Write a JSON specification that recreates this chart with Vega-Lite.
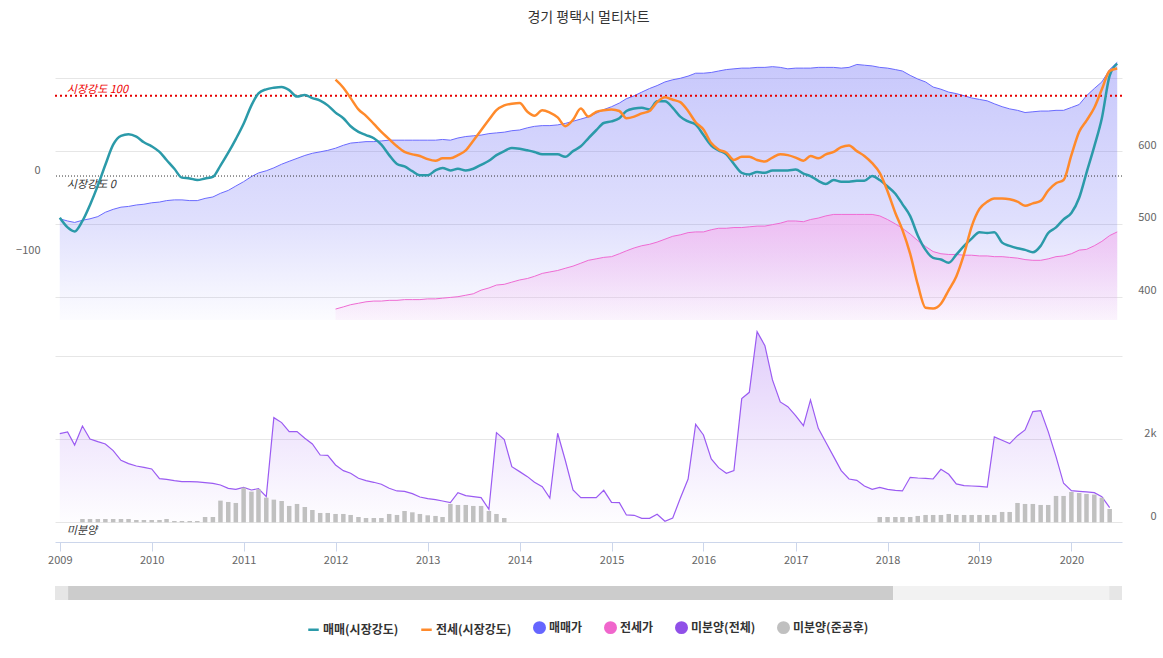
{
  "$schema": "https://vega.github.io/schema/vega-lite/v6.json",
  "autosize": {"type": "none"},
  "padding": {"left": 55, "top": 60, "right": 41, "bottom": 116},
  "width": 1067,
  "height": 482,
  "background": "white",
  "title": {"text": "경기 평택시 멀티차트", "anchor": "middle", "offset": 34, "fontSize": 14, "fontWeight": "normal", "color": "#333333"},
  "datasets": {
    "market": [
      {"date": "2009-01-01", "sale_strength": -52, "sale_price": 507},
      {"date": "2009-02-01", "sale_strength": -64, "sale_price": 504},
      {"date": "2009-03-01", "sale_strength": -69, "sale_price": 502},
      {"date": "2009-04-01", "sale_strength": -56, "sale_price": 505},
      {"date": "2009-05-01", "sale_strength": -36, "sale_price": 507},
      {"date": "2009-06-01", "sale_strength": -12, "sale_price": 510},
      {"date": "2009-07-01", "sale_strength": 14, "sale_price": 516},
      {"date": "2009-08-01", "sale_strength": 39, "sale_price": 520},
      {"date": "2009-09-01", "sale_strength": 50, "sale_price": 523},
      {"date": "2009-10-01", "sale_strength": 52, "sale_price": 524},
      {"date": "2009-11-01", "sale_strength": 49, "sale_price": 526},
      {"date": "2009-12-01", "sale_strength": 42, "sale_price": 527},
      {"date": "2010-01-01", "sale_strength": 37, "sale_price": 529},
      {"date": "2010-02-01", "sale_strength": 30, "sale_price": 530},
      {"date": "2010-03-01", "sale_strength": 20, "sale_price": 532},
      {"date": "2010-04-01", "sale_strength": 9, "sale_price": 533},
      {"date": "2010-05-01", "sale_strength": -2, "sale_price": 533},
      {"date": "2010-06-01", "sale_strength": -3, "sale_price": 532},
      {"date": "2010-07-01", "sale_strength": -5, "sale_price": 532},
      {"date": "2010-08-01", "sale_strength": -3, "sale_price": 535},
      {"date": "2010-09-01", "sale_strength": -1, "sale_price": 537},
      {"date": "2010-10-01", "sale_strength": 13, "sale_price": 542},
      {"date": "2010-11-01", "sale_strength": 29, "sale_price": 546},
      {"date": "2010-12-01", "sale_strength": 46, "sale_price": 552},
      {"date": "2011-01-01", "sale_strength": 65, "sale_price": 558},
      {"date": "2011-02-01", "sale_strength": 88, "sale_price": 565},
      {"date": "2011-03-01", "sale_strength": 103, "sale_price": 570},
      {"date": "2011-04-01", "sale_strength": 108, "sale_price": 573},
      {"date": "2011-05-01", "sale_strength": 110, "sale_price": 577},
      {"date": "2011-06-01", "sale_strength": 111, "sale_price": 582},
      {"date": "2011-07-01", "sale_strength": 107, "sale_price": 586},
      {"date": "2011-08-01", "sale_strength": 99, "sale_price": 590},
      {"date": "2011-09-01", "sale_strength": 101, "sale_price": 594},
      {"date": "2011-10-01", "sale_strength": 97, "sale_price": 597},
      {"date": "2011-11-01", "sale_strength": 94, "sale_price": 599},
      {"date": "2011-12-01", "sale_strength": 88, "sale_price": 601},
      {"date": "2012-01-01", "sale_strength": 79, "jeonse_strength": 120, "sale_price": 604, "jeonse_price": 383},
      {"date": "2012-02-01", "sale_strength": 72, "jeonse_strength": 110, "sale_price": 608, "jeonse_price": 386},
      {"date": "2012-03-01", "sale_strength": 62, "jeonse_strength": 97, "sale_price": 611, "jeonse_price": 389},
      {"date": "2012-04-01", "sale_strength": 55, "jeonse_strength": 83, "sale_price": 612, "jeonse_price": 391},
      {"date": "2012-05-01", "sale_strength": 51, "jeonse_strength": 75, "sale_price": 613, "jeonse_price": 393},
      {"date": "2012-06-01", "sale_strength": 47, "jeonse_strength": 65, "sale_price": 613, "jeonse_price": 394},
      {"date": "2012-07-01", "sale_strength": 39, "jeonse_strength": 55, "sale_price": 614, "jeonse_price": 394},
      {"date": "2012-08-01", "sale_strength": 26, "jeonse_strength": 46, "sale_price": 615, "jeonse_price": 395},
      {"date": "2012-09-01", "sale_strength": 15, "jeonse_strength": 37, "sale_price": 615, "jeonse_price": 395},
      {"date": "2012-10-01", "sale_strength": 12, "jeonse_strength": 30, "sale_price": 615, "jeonse_price": 396},
      {"date": "2012-11-01", "sale_strength": 6, "jeonse_strength": 27, "sale_price": 615, "jeonse_price": 396},
      {"date": "2012-12-01", "sale_strength": 1, "jeonse_strength": 25, "sale_price": 615, "jeonse_price": 396},
      {"date": "2013-01-01", "sale_strength": 1, "jeonse_strength": 21, "sale_price": 615, "jeonse_price": 397},
      {"date": "2013-02-01", "sale_strength": 7, "jeonse_strength": 19, "sale_price": 615, "jeonse_price": 397},
      {"date": "2013-03-01", "sale_strength": 10, "jeonse_strength": 22, "sale_price": 616, "jeonse_price": 398},
      {"date": "2013-04-01", "sale_strength": 7, "jeonse_strength": 22, "sale_price": 615, "jeonse_price": 399},
      {"date": "2013-05-01", "sale_strength": 9, "jeonse_strength": 26, "sale_price": 618, "jeonse_price": 400},
      {"date": "2013-06-01", "sale_strength": 7, "jeonse_strength": 32, "sale_price": 620, "jeonse_price": 402},
      {"date": "2013-07-01", "sale_strength": 9, "jeonse_strength": 44, "sale_price": 621, "jeonse_price": 404},
      {"date": "2013-08-01", "sale_strength": 14, "jeonse_strength": 57, "sale_price": 622, "jeonse_price": 409},
      {"date": "2013-09-01", "sale_strength": 19, "jeonse_strength": 70, "sale_price": 624, "jeonse_price": 412},
      {"date": "2013-10-01", "sale_strength": 26, "jeonse_strength": 82, "sale_price": 625, "jeonse_price": 416},
      {"date": "2013-11-01", "sale_strength": 31, "jeonse_strength": 88, "sale_price": 626, "jeonse_price": 417},
      {"date": "2013-12-01", "sale_strength": 35, "jeonse_strength": 90, "sale_price": 628, "jeonse_price": 420},
      {"date": "2014-01-01", "sale_strength": 34, "jeonse_strength": 91, "sale_price": 629, "jeonse_price": 423},
      {"date": "2014-02-01", "sale_strength": 32, "jeonse_strength": 80, "sale_price": 632, "jeonse_price": 425},
      {"date": "2014-03-01", "sale_strength": 30, "jeonse_strength": 75, "sale_price": 634, "jeonse_price": 428},
      {"date": "2014-04-01", "sale_strength": 27, "jeonse_strength": 82, "sale_price": 635, "jeonse_price": 432},
      {"date": "2014-05-01", "sale_strength": 27, "jeonse_strength": 79, "sale_price": 635, "jeonse_price": 434},
      {"date": "2014-06-01", "sale_strength": 27, "jeonse_strength": 73, "sale_price": 636, "jeonse_price": 436},
      {"date": "2014-07-01", "sale_strength": 24, "jeonse_strength": 62, "sale_price": 638, "jeonse_price": 439},
      {"date": "2014-08-01", "sale_strength": 31, "jeonse_strength": 70, "sale_price": 641, "jeonse_price": 442},
      {"date": "2014-09-01", "sale_strength": 37, "jeonse_strength": 84, "sale_price": 644, "jeonse_price": 446},
      {"date": "2014-10-01", "sale_strength": 47, "jeonse_strength": 74, "sale_price": 647, "jeonse_price": 450},
      {"date": "2014-11-01", "sale_strength": 57, "jeonse_strength": 80, "sale_price": 652, "jeonse_price": 452},
      {"date": "2014-12-01", "sale_strength": 66, "jeonse_strength": 82, "sale_price": 657, "jeonse_price": 454},
      {"date": "2015-01-01", "sale_strength": 68, "jeonse_strength": 83, "sale_price": 661, "jeonse_price": 455},
      {"date": "2015-02-01", "sale_strength": 72, "jeonse_strength": 81, "sale_price": 666, "jeonse_price": 459},
      {"date": "2015-03-01", "sale_strength": 81, "jeonse_strength": 72, "sale_price": 672, "jeonse_price": 463},
      {"date": "2015-04-01", "sale_strength": 84, "jeonse_strength": 74, "sale_price": 676, "jeonse_price": 467},
      {"date": "2015-05-01", "sale_strength": 85, "jeonse_strength": 78, "sale_price": 681, "jeonse_price": 470},
      {"date": "2015-06-01", "sale_strength": 83, "jeonse_strength": 81, "sale_price": 686, "jeonse_price": 472},
      {"date": "2015-07-01", "sale_strength": 93, "jeonse_strength": 92, "sale_price": 690, "jeonse_price": 475},
      {"date": "2015-08-01", "sale_strength": 93, "jeonse_strength": 98, "sale_price": 695, "jeonse_price": 479},
      {"date": "2015-09-01", "sale_strength": 85, "jeonse_strength": 95, "sale_price": 698, "jeonse_price": 483},
      {"date": "2015-10-01", "sale_strength": 74, "jeonse_strength": 92, "sale_price": 700, "jeonse_price": 485},
      {"date": "2015-11-01", "sale_strength": 68, "jeonse_strength": 81, "sale_price": 703, "jeonse_price": 488},
      {"date": "2015-12-01", "sale_strength": 64, "jeonse_strength": 67, "sale_price": 707, "jeonse_price": 489},
      {"date": "2016-01-01", "sale_strength": 51, "jeonse_strength": 58, "sale_price": 707, "jeonse_price": 489},
      {"date": "2016-02-01", "sale_strength": 38, "jeonse_strength": 41, "sale_price": 708, "jeonse_price": 492},
      {"date": "2016-03-01", "sale_strength": 32, "jeonse_strength": 33, "sale_price": 710, "jeonse_price": 494},
      {"date": "2016-04-01", "sale_strength": 27, "jeonse_strength": 29, "sale_price": 712, "jeonse_price": 494},
      {"date": "2016-05-01", "sale_strength": 15, "jeonse_strength": 20, "sale_price": 713, "jeonse_price": 495},
      {"date": "2016-06-01", "sale_strength": 4, "jeonse_strength": 24, "sale_price": 714, "jeonse_price": 495},
      {"date": "2016-07-01", "sale_strength": 2, "jeonse_strength": 24, "sale_price": 714, "jeonse_price": 496},
      {"date": "2016-08-01", "sale_strength": 5, "jeonse_strength": 20, "sale_price": 715, "jeonse_price": 497},
      {"date": "2016-09-01", "sale_strength": 4, "jeonse_strength": 18, "sale_price": 715, "jeonse_price": 497},
      {"date": "2016-10-01", "sale_strength": 7, "jeonse_strength": 23, "sale_price": 716, "jeonse_price": 499},
      {"date": "2016-11-01", "sale_strength": 7, "jeonse_strength": 27, "sale_price": 715, "jeonse_price": 501},
      {"date": "2016-12-01", "sale_strength": 7, "jeonse_strength": 26, "sale_price": 713, "jeonse_price": 504},
      {"date": "2017-01-01", "sale_strength": 8, "jeonse_strength": 23, "sale_price": 714, "jeonse_price": 504},
      {"date": "2017-02-01", "sale_strength": 3, "jeonse_strength": 19, "sale_price": 714, "jeonse_price": 503},
      {"date": "2017-03-01", "sale_strength": 0, "jeonse_strength": 25, "sale_price": 714, "jeonse_price": 506},
      {"date": "2017-04-01", "sale_strength": -6, "jeonse_strength": 22, "sale_price": 715, "jeonse_price": 508},
      {"date": "2017-05-01", "sale_strength": -10, "jeonse_strength": 27, "sale_price": 715, "jeonse_price": 511},
      {"date": "2017-06-01", "sale_strength": -5, "jeonse_strength": 30, "sale_price": 715, "jeonse_price": 513},
      {"date": "2017-07-01", "sale_strength": -7, "jeonse_strength": 36, "sale_price": 714, "jeonse_price": 513},
      {"date": "2017-08-01", "sale_strength": -7, "jeonse_strength": 38, "sale_price": 715, "jeonse_price": 513},
      {"date": "2017-09-01", "sale_strength": -6, "jeonse_strength": 31, "sale_price": 719, "jeonse_price": 513},
      {"date": "2017-10-01", "sale_strength": -6, "jeonse_strength": 25, "sale_price": 718, "jeonse_price": 513},
      {"date": "2017-11-01", "sale_strength": 0, "jeonse_strength": 16, "sale_price": 717, "jeonse_price": 513},
      {"date": "2017-12-01", "sale_strength": -5, "jeonse_strength": 4, "sale_price": 715, "jeonse_price": 511},
      {"date": "2018-01-01", "sale_strength": -13, "jeonse_strength": -19, "sale_price": 714, "jeonse_price": 506},
      {"date": "2018-02-01", "sale_strength": -22, "jeonse_strength": -46, "sale_price": 712, "jeonse_price": 500},
      {"date": "2018-03-01", "sale_strength": -35, "jeonse_strength": -67, "sale_price": 710, "jeonse_price": 494},
      {"date": "2018-04-01", "sale_strength": -50, "jeonse_strength": -97, "sale_price": 704, "jeonse_price": 486},
      {"date": "2018-05-01", "sale_strength": -74, "jeonse_strength": -135, "sale_price": 699, "jeonse_price": 477},
      {"date": "2018-06-01", "sale_strength": -92, "jeonse_strength": -164, "sale_price": 695, "jeonse_price": 469},
      {"date": "2018-07-01", "sale_strength": -102, "jeonse_strength": -165, "sale_price": 688, "jeonse_price": 462},
      {"date": "2018-08-01", "sale_strength": -104, "jeonse_strength": -159, "sale_price": 685, "jeonse_price": 459},
      {"date": "2018-09-01", "sale_strength": -108, "jeonse_strength": -142, "sale_price": 681, "jeonse_price": 458},
      {"date": "2018-10-01", "sale_strength": -98, "jeonse_strength": -125, "sale_price": 679, "jeonse_price": 458},
      {"date": "2018-11-01", "sale_strength": -87, "jeonse_strength": -97, "sale_price": 676, "jeonse_price": 457},
      {"date": "2018-12-01", "sale_strength": -78, "jeonse_strength": -63, "sale_price": 673, "jeonse_price": 457},
      {"date": "2019-01-01", "sale_strength": -70, "jeonse_strength": -41, "sale_price": 671, "jeonse_price": 456},
      {"date": "2019-02-01", "sale_strength": -71, "jeonse_strength": -32, "sale_price": 669, "jeonse_price": 456},
      {"date": "2019-03-01", "sale_strength": -70, "jeonse_strength": -28, "sale_price": 665, "jeonse_price": 455},
      {"date": "2019-04-01", "sale_strength": -83, "jeonse_strength": -28, "sale_price": 661, "jeonse_price": 455},
      {"date": "2019-05-01", "sale_strength": -87, "jeonse_strength": -29, "sale_price": 658, "jeonse_price": 454},
      {"date": "2019-06-01", "sale_strength": -90, "jeonse_strength": -32, "sale_price": 656, "jeonse_price": 453},
      {"date": "2019-07-01", "sale_strength": -92, "jeonse_strength": -37, "sale_price": 653, "jeonse_price": 451},
      {"date": "2019-08-01", "sale_strength": -95, "jeonse_strength": -34, "sale_price": 654, "jeonse_price": 450},
      {"date": "2019-09-01", "sale_strength": -87, "jeonse_strength": -31, "sale_price": 655, "jeonse_price": 450},
      {"date": "2019-10-01", "sale_strength": -71, "jeonse_strength": -18, "sale_price": 655, "jeonse_price": 452},
      {"date": "2019-11-01", "sale_strength": -64, "jeonse_strength": -9, "sale_price": 656, "jeonse_price": 455},
      {"date": "2019-12-01", "sale_strength": -54, "jeonse_strength": -5, "sale_price": 656, "jeonse_price": 456},
      {"date": "2020-01-01", "sale_strength": -46, "jeonse_strength": 26, "sale_price": 660, "jeonse_price": 459},
      {"date": "2020-02-01", "sale_strength": -27, "jeonse_strength": 55, "sale_price": 664, "jeonse_price": 464},
      {"date": "2020-03-01", "sale_strength": 4, "jeonse_strength": 69, "sale_price": 676, "jeonse_price": 465},
      {"date": "2020-04-01", "sale_strength": 37, "jeonse_strength": 85, "sale_price": 686, "jeonse_price": 470},
      {"date": "2020-05-01", "sale_strength": 72, "jeonse_strength": 108, "sale_price": 695, "jeonse_price": 476},
      {"date": "2020-06-01", "sale_strength": 125, "jeonse_strength": 131, "sale_price": 712, "jeonse_price": 484},
      {"date": "2020-07-01", "sale_strength": 140, "jeonse_strength": 134, "sale_price": 722, "jeonse_price": 489}
    ],
    "stock": [
      {"date": "2009-01-01", "unsold": 2137},
      {"date": "2009-02-01", "unsold": 2177},
      {"date": "2009-03-01", "unsold": 1863},
      {"date": "2009-04-01", "unsold": 2321, "unsold_done": 80},
      {"date": "2009-05-01", "unsold": 2008, "unsold_done": 80},
      {"date": "2009-06-01", "unsold": 1944, "unsold_done": 80},
      {"date": "2009-07-01", "unsold": 1888, "unsold_done": 80},
      {"date": "2009-08-01", "unsold": 1727, "unsold_done": 80},
      {"date": "2009-09-01", "unsold": 1494, "unsold_done": 80},
      {"date": "2009-10-01", "unsold": 1414, "unsold_done": 80},
      {"date": "2009-11-01", "unsold": 1357, "unsold_done": 56},
      {"date": "2009-12-01", "unsold": 1325, "unsold_done": 56},
      {"date": "2010-01-01", "unsold": 1285, "unsold_done": 56},
      {"date": "2010-02-01", "unsold": 1052, "unsold_done": 56},
      {"date": "2010-03-01", "unsold": 1036, "unsold_done": 80},
      {"date": "2010-04-01", "unsold": 1004, "unsold_done": 32},
      {"date": "2010-05-01", "unsold": 980, "unsold_done": 32},
      {"date": "2010-06-01", "unsold": 980, "unsold_done": 32},
      {"date": "2010-07-01", "unsold": 972, "unsold_done": 32},
      {"date": "2010-08-01", "unsold": 956, "unsold_done": 128},
      {"date": "2010-09-01", "unsold": 940, "unsold_done": 128},
      {"date": "2010-10-01", "unsold": 900, "unsold_done": 522},
      {"date": "2010-11-01", "unsold": 819, "unsold_done": 490},
      {"date": "2010-12-01", "unsold": 795, "unsold_done": 466},
      {"date": "2011-01-01", "unsold": 843, "unsold_done": 835},
      {"date": "2011-02-01", "unsold": 779, "unsold_done": 739},
      {"date": "2011-03-01", "unsold": 811, "unsold_done": 795},
      {"date": "2011-04-01", "unsold": 618, "unsold_done": 594},
      {"date": "2011-05-01", "unsold": 2522, "unsold_done": 546},
      {"date": "2011-06-01", "unsold": 2402, "unsold_done": 514},
      {"date": "2011-07-01", "unsold": 2185, "unsold_done": 394},
      {"date": "2011-08-01", "unsold": 2185, "unsold_done": 442},
      {"date": "2011-09-01", "unsold": 2024, "unsold_done": 369},
      {"date": "2011-10-01", "unsold": 1888, "unsold_done": 297},
      {"date": "2011-11-01", "unsold": 1622, "unsold_done": 225},
      {"date": "2011-12-01", "unsold": 1614, "unsold_done": 225},
      {"date": "2012-01-01", "unsold": 1381, "unsold_done": 201},
      {"date": "2012-02-01", "unsold": 1245, "unsold_done": 201},
      {"date": "2012-03-01", "unsold": 1181, "unsold_done": 177},
      {"date": "2012-04-01", "unsold": 1060, "unsold_done": 128},
      {"date": "2012-05-01", "unsold": 1004, "unsold_done": 104},
      {"date": "2012-06-01", "unsold": 964, "unsold_done": 104},
      {"date": "2012-07-01", "unsold": 916, "unsold_done": 104},
      {"date": "2012-08-01", "unsold": 819, "unsold_done": 201},
      {"date": "2012-09-01", "unsold": 755, "unsold_done": 177},
      {"date": "2012-10-01", "unsold": 747, "unsold_done": 273},
      {"date": "2012-11-01", "unsold": 691, "unsold_done": 241},
      {"date": "2012-12-01", "unsold": 610, "unsold_done": 201},
      {"date": "2013-01-01", "unsold": 570, "unsold_done": 169},
      {"date": "2013-02-01", "unsold": 546, "unsold_done": 153},
      {"date": "2013-03-01", "unsold": 514, "unsold_done": 128},
      {"date": "2013-04-01", "unsold": 474, "unsold_done": 442},
      {"date": "2013-05-01", "unsold": 715, "unsold_done": 418},
      {"date": "2013-06-01", "unsold": 643, "unsold_done": 418},
      {"date": "2013-07-01", "unsold": 618, "unsold_done": 394},
      {"date": "2013-08-01", "unsold": 594, "unsold_done": 394},
      {"date": "2013-09-01", "unsold": 313, "unsold_done": 273},
      {"date": "2013-10-01", "unsold": 2161, "unsold_done": 201},
      {"date": "2013-11-01", "unsold": 1992, "unsold_done": 104},
      {"date": "2013-12-01", "unsold": 1341},
      {"date": "2014-01-01", "unsold": 1221},
      {"date": "2014-02-01", "unsold": 1100},
      {"date": "2014-03-01", "unsold": 964},
      {"date": "2014-04-01", "unsold": 859},
      {"date": "2014-05-01", "unsold": 586},
      {"date": "2014-06-01", "unsold": 2145},
      {"date": "2014-07-01", "unsold": 1502},
      {"date": "2014-08-01", "unsold": 779},
      {"date": "2014-09-01", "unsold": 594},
      {"date": "2014-10-01", "unsold": 594},
      {"date": "2014-11-01", "unsold": 594},
      {"date": "2014-12-01", "unsold": 771},
      {"date": "2015-01-01", "unsold": 482},
      {"date": "2015-02-01", "unsold": 474},
      {"date": "2015-03-01", "unsold": 177},
      {"date": "2015-04-01", "unsold": 169},
      {"date": "2015-05-01", "unsold": 96},
      {"date": "2015-06-01", "unsold": 96},
      {"date": "2015-07-01", "unsold": 193},
      {"date": "2015-08-01", "unsold": 24},
      {"date": "2015-09-01", "unsold": 104},
      {"date": "2015-10-01", "unsold": 578},
      {"date": "2015-11-01", "unsold": 1044},
      {"date": "2015-12-01", "unsold": 2361},
      {"date": "2016-01-01", "unsold": 2104},
      {"date": "2016-02-01", "unsold": 1526},
      {"date": "2016-03-01", "unsold": 1317},
      {"date": "2016-04-01", "unsold": 1181},
      {"date": "2016-05-01", "unsold": 1245},
      {"date": "2016-06-01", "unsold": 2980},
      {"date": "2016-07-01", "unsold": 3132},
      {"date": "2016-08-01", "unsold": 4594},
      {"date": "2016-09-01", "unsold": 4257},
      {"date": "2016-10-01", "unsold": 3430},
      {"date": "2016-11-01", "unsold": 2900},
      {"date": "2016-12-01", "unsold": 2787},
      {"date": "2017-01-01", "unsold": 2570},
      {"date": "2017-02-01", "unsold": 2329},
      {"date": "2017-03-01", "unsold": 2948},
      {"date": "2017-04-01", "unsold": 2265},
      {"date": "2017-05-01", "unsold": 1928},
      {"date": "2017-06-01", "unsold": 1582},
      {"date": "2017-07-01", "unsold": 1245},
      {"date": "2017-08-01", "unsold": 1044},
      {"date": "2017-09-01", "unsold": 1012},
      {"date": "2017-10-01", "unsold": 875},
      {"date": "2017-11-01", "unsold": 795},
      {"date": "2017-12-01", "unsold": 843, "unsold_done": 128},
      {"date": "2018-01-01", "unsold": 795, "unsold_done": 128},
      {"date": "2018-02-01", "unsold": 771, "unsold_done": 128},
      {"date": "2018-03-01", "unsold": 755, "unsold_done": 128},
      {"date": "2018-04-01", "unsold": 1084, "unsold_done": 128},
      {"date": "2018-05-01", "unsold": 1068, "unsold_done": 153},
      {"date": "2018-06-01", "unsold": 1060, "unsold_done": 177},
      {"date": "2018-07-01", "unsold": 1044, "unsold_done": 177},
      {"date": "2018-08-01", "unsold": 1277, "unsold_done": 177},
      {"date": "2018-09-01", "unsold": 1157, "unsold_done": 201},
      {"date": "2018-10-01", "unsold": 924, "unsold_done": 177},
      {"date": "2018-11-01", "unsold": 884, "unsold_done": 177},
      {"date": "2018-12-01", "unsold": 875, "unsold_done": 177},
      {"date": "2019-01-01", "unsold": 867, "unsold_done": 177},
      {"date": "2019-02-01", "unsold": 851, "unsold_done": 177},
      {"date": "2019-03-01", "unsold": 2056, "unsold_done": 177},
      {"date": "2019-04-01", "unsold": 1976, "unsold_done": 249},
      {"date": "2019-05-01", "unsold": 1896, "unsold_done": 249},
      {"date": "2019-06-01", "unsold": 2088, "unsold_done": 466},
      {"date": "2019-07-01", "unsold": 2225, "unsold_done": 442},
      {"date": "2019-08-01", "unsold": 2667, "unsold_done": 442},
      {"date": "2019-09-01", "unsold": 2691, "unsold_done": 418},
      {"date": "2019-10-01", "unsold": 2185, "unsold_done": 418},
      {"date": "2019-11-01", "unsold": 1582, "unsold_done": 635},
      {"date": "2019-12-01", "unsold": 940, "unsold_done": 635},
      {"date": "2020-01-01", "unsold": 763, "unsold_done": 731},
      {"date": "2020-02-01", "unsold": 747, "unsold_done": 707},
      {"date": "2020-03-01", "unsold": 731, "unsold_done": 683},
      {"date": "2020-04-01", "unsold": 715, "unsold_done": 667},
      {"date": "2020-05-01", "unsold": 618, "unsold_done": 594},
      {"date": "2020-06-01", "unsold": 353, "unsold_done": 321}
    ],
    "navigator": [
      {"part": "button", "start": "2008-12-13", "end": "2009-02-03"},
      {"part": "thumb", "start": "2009-02-03", "end": "2018-01-23"},
      {"part": "track", "start": "2018-01-23", "end": "2020-05-30"},
      {"part": "button", "start": "2020-05-30", "end": "2020-07-20"}
    ],
    "legend": [
      {"series": "매매(시장강도)"}
    ]
  },
  "layer": [
    {
      "data": {"name": "market"},
      "mark": {"type": "area", "fill": {"gradient": "linear", "x1": 0, "y1": 0, "x2": 0, "y2": 1, "stops": [{"offset": 0, "color": "rgba(102,102,245,0.36)"}, {"offset": 0.6, "color": "rgba(102,102,245,0.21)"}, {"offset": 1, "color": "rgba(102,102,245,0.02)"}]}},
      "encoding": {
        "x": {
          "field": "date", "type": "temporal", "title": null,
          "scale": {"domain": [1229126400000, 1595203200000], "padding": 0},
          "axis": {"orient": "bottom", "format": "%Y", "tickCount": 12, "grid": false, "domain": true, "domainColor": "#ccd6eb", "ticks": true, "tickColor": "#ccd6eb", "tickSize": 9, "labels": true, "labelColor": "#666666", "labelFontSize": 11, "labelPadding": 3}
        },
        "y": {
          "field": "sale_price", "type": "quantitative", "title": null,
          "scale": {"domain": [63.05, 725.14], "zero": false, "nice": false, "padding": 0},
          "axis": {"orient": "right", "values": [400, 500, 600, 700], "labelExpr": "datum.value >= 700 ? '' : datum.label", "grid": true, "gridColor": "#e6e6e6", "domain": false, "ticks": false, "labelAlign": "right", "labelPadding": 34, "labelOffset": -6, "labelColor": "#666666", "labelFontSize": 11}
        },
        "y2": {"datum": 368}
      }
    },
    {
      "data": {"name": "market"},
      "mark": {"type": "area", "fill": {"gradient": "linear", "x1": 0, "y1": 0, "x2": 0, "y2": 1, "stops": [{"offset": 0, "color": "rgba(245,175,238,0.7)"}, {"offset": 1, "color": "rgba(245,185,240,0.12)"}]}},
      "encoding": {
        "x": {"field": "date", "type": "temporal", "scale": {"domain": [1229126400000, 1595203200000], "padding": 0}, "axis": null},
        "y": {"field": "jeonse_price", "type": "quantitative", "scale": {"domain": [63.05, 725.14], "zero": false, "nice": false, "padding": 0}, "axis": null},
        "y2": {"datum": 368}
      }
    },
    {
      "data": {"name": "market"},
      "mark": {"type": "line", "color": "#6a6aff", "strokeWidth": 1},
      "encoding": {
        "x": {"field": "date", "type": "temporal", "scale": {"domain": [1229126400000, 1595203200000], "padding": 0}, "axis": null},
        "y": {"field": "sale_price", "type": "quantitative", "scale": {"domain": [63.05, 725.14], "zero": false, "nice": false, "padding": 0}, "axis": null}
      }
    },
    {
      "data": {"name": "market"},
      "mark": {"type": "line", "color": "#ef6bd3", "strokeWidth": 1},
      "encoding": {
        "x": {"field": "date", "type": "temporal", "scale": {"domain": [1229126400000, 1595203200000], "padding": 0}, "axis": null},
        "y": {"field": "jeonse_price", "type": "quantitative", "scale": {"domain": [63.05, 725.14], "zero": false, "nice": false, "padding": 0}, "axis": null}
      }
    },
    {
      "data": {"name": "stock"},
      "mark": {"type": "area", "fill": {"gradient": "linear", "x1": 0, "y1": 0, "x2": 0, "y2": 1, "stops": [{"offset": 0, "color": "rgba(155,90,240,0.30)"}, {"offset": 1, "color": "rgba(155,90,240,0.01)"}]}},
      "encoding": {
        "x": {"field": "date", "type": "temporal", "scale": {"domain": [1229126400000, 1595203200000], "padding": 0}, "axis": null},
        "y": {
          "field": "unsold", "type": "quantitative", "title": null,
          "scale": {"domain": [-474.7, 11139.8], "zero": false, "nice": false, "padding": 0},
          "axis": {"orient": "right", "values": [0, 2000, 4000], "format": "~s", "labelExpr": "datum.value >= 4000 ? '' : (datum.value == 0 ? '0' : datum.label)", "grid": true, "gridColor": "#e6e6e6", "domain": false, "ticks": false, "labelAlign": "right", "labelPadding": 34, "labelOffset": -6, "labelColor": "#666666", "labelFontSize": 11}
        },
        "y2": {"datum": 0}
      }
    },
    {
      "data": {"name": "stock"},
      "mark": {"type": "line", "color": "#9b5bf2", "strokeWidth": 1.2},
      "encoding": {
        "x": {"field": "date", "type": "temporal", "scale": {"domain": [1229126400000, 1595203200000], "padding": 0}, "axis": null},
        "y": {"field": "unsold", "type": "quantitative", "scale": {"domain": [-474.7, 11139.8], "zero": false, "nice": false, "padding": 0}, "axis": null}
      }
    },
    {
      "data": {"name": "stock"},
      "mark": {"type": "bar", "color": "#c0c0c0", "width": 4.5},
      "encoding": {
        "x": {"field": "date", "type": "temporal", "scale": {"domain": [1229126400000, 1595203200000], "padding": 0}, "axis": null},
        "y": {"field": "unsold_done", "type": "quantitative", "scale": {"domain": [-474.7, 11139.8], "zero": false, "nice": false, "padding": 0}, "axis": null},
        "y2": {"datum": 0}
      }
    },
    {
      "data": {"name": "legend"},
      "mark": {"type": "text", "text": "미분양", "align": "left", "baseline": "top", "dx": 7, "dy": 3, "fontSize": 11, "fontStyle": "italic", "color": "#333333"},
      "encoding": {
        "x": {"datum": 1230768000000, "type": "temporal", "scale": {"domain": [1229126400000, 1595203200000], "padding": 0}, "axis": null},
        "y": {"datum": 0, "type": "quantitative", "scale": {"domain": [-474.7, 11139.8], "zero": false, "nice": false, "padding": 0}, "axis": null}
      }
    },
    {
      "data": {"name": "legend"},
      "mark": {"type": "rule", "color": "#e60000", "strokeWidth": 2, "strokeDash": [2, 3]},
      "encoding": {
        "y": {"datum": 100, "type": "quantitative", "scale": {"domain": [-455.8, 144.5], "zero": false, "nice": false, "padding": 0}, "axis": null}
      }
    },
    {
      "data": {"name": "legend"},
      "mark": {"type": "rule", "color": "#333333", "strokeWidth": 1, "strokeDash": [1, 2]},
      "encoding": {
        "y": {"datum": 0, "type": "quantitative", "scale": {"domain": [-455.8, 144.5], "zero": false, "nice": false, "padding": 0}, "axis": null}
      }
    },
    {
      "data": {"name": "market"},
      "mark": {"type": "line", "color": "#2b9aa9", "strokeWidth": 2.5, "interpolate": "monotone"},
      "encoding": {
        "x": {"field": "date", "type": "temporal", "scale": {"domain": [1229126400000, 1595203200000], "padding": 0}, "axis": null},
        "y": {
          "field": "sale_strength", "type": "quantitative", "title": null,
          "scale": {"domain": [-455.8, 144.5], "zero": false, "nice": false, "padding": 0},
          "axis": {"orient": "left", "values": [-100, 0], "grid": false, "domain": false, "ticks": false, "labelPadding": 15, "labelOffset": -6, "labelColor": "#666666", "labelFontSize": 11}
        }
      }
    },
    {
      "data": {"name": "market"},
      "mark": {"type": "line", "color": "#ff8a2b", "strokeWidth": 2.5, "interpolate": "monotone"},
      "encoding": {
        "x": {"field": "date", "type": "temporal", "scale": {"domain": [1229126400000, 1595203200000], "padding": 0}, "axis": null},
        "y": {"field": "jeonse_strength", "type": "quantitative", "scale": {"domain": [-455.8, 144.5], "zero": false, "nice": false, "padding": 0}, "axis": null}
      }
    },
    {
      "data": {"name": "legend"},
      "mark": {"type": "text", "text": "시장강도 100", "align": "left", "baseline": "bottom", "dx": 7, "dy": -1, "fontSize": 11, "fontStyle": "italic", "color": "#ee0000"},
      "encoding": {
        "x": {"datum": 1230768000000, "type": "temporal", "scale": {"domain": [1229126400000, 1595203200000], "padding": 0}, "axis": null},
        "y": {"datum": 100, "type": "quantitative", "scale": {"domain": [-455.8, 144.5], "zero": false, "nice": false, "padding": 0}, "axis": null}
      }
    },
    {
      "data": {"name": "legend"},
      "mark": {"type": "text", "text": "시장강도 0", "align": "left", "baseline": "top", "dx": 7, "dy": 3, "fontSize": 11, "fontStyle": "italic", "color": "#333333"},
      "encoding": {
        "x": {"datum": 1230768000000, "type": "temporal", "scale": {"domain": [1229126400000, 1595203200000], "padding": 0}, "axis": null},
        "y": {"datum": 0, "type": "quantitative", "scale": {"domain": [-455.8, 144.5], "zero": false, "nice": false, "padding": 0}, "axis": null}
      }
    },
    {
      "data": {"name": "navigator"},
      "mark": {"type": "rect"},
      "encoding": {
        "x": {"field": "start", "type": "temporal", "scale": {"domain": [1229126400000, 1595203200000], "padding": 0}, "axis": null},
        "x2": {"field": "end"},
        "y": {"datum": 0, "type": "quantitative", "scale": {"domain": [4.1429, 38.5714], "zero": false, "nice": false, "padding": 0}, "axis": null},
        "y2": {"datum": 1},
        "fill": {"field": "part", "type": "nominal", "scale": {"domain": ["button", "thumb", "track"], "range": ["#e6e6e6", "#cccccc", "#f2f2f2"]}, "legend": null}
      }
    },
    {
      "data": {"name": "legend"},
      "transform": [{"filter": "datum.series == 'none'"}],
      "mark": {"type": "point", "filled": true, "opacity": 1, "strokeWidth": 2.5},
      "encoding": {
        "color": {
          "field": "series", "type": "nominal", "title": null,
          "scale": {"domain": ["매매(시장강도)", "전세(시장강도)", "매매가", "전세가", "미분양(전체)", "미분양(준공후)"], "range": ["#2b9aa9", "#ff8a2b", "#6666ff", "#f066cc", "#9050e8", "#c0c0c0"]},
          "legend": {"orient": "none", "legendX": 252, "legendY": 561, "direction": "horizontal", "labelFontSize": 12, "labelFontWeight": "bold", "labelColor": "#333333", "symbolSize": 110, "symbolStrokeWidth": 2.5, "columnPadding": 17, "labelOffset": 3, "labelLimit": 200}
        },
        "stroke": {
          "field": "series", "type": "nominal", "title": null,
          "scale": {"domain": ["매매(시장강도)", "전세(시장강도)", "매매가", "전세가", "미분양(전체)", "미분양(준공후)"], "range": ["#2b9aa9", "#ff8a2b", "#6666ff", "#f066cc", "#9050e8", "#c0c0c0"]},
          "legend": {"orient": "none", "legendX": 252, "legendY": 561, "direction": "horizontal", "labelFontSize": 12, "labelFontWeight": "bold", "labelColor": "#333333", "symbolSize": 110, "symbolStrokeWidth": 2.5, "columnPadding": 17, "labelOffset": 3, "labelLimit": 200}
        },
        "shape": {
          "field": "series", "type": "nominal", "title": null,
          "scale": {"domain": ["매매(시장강도)", "전세(시장강도)", "매매가", "전세가", "미분양(전체)", "미분양(준공후)"], "range": ["stroke", "stroke", "circle", "circle", "circle", "circle"]},
          "legend": {"orient": "none", "legendX": 252, "legendY": 561, "direction": "horizontal", "labelFontSize": 12, "labelFontWeight": "bold", "labelColor": "#333333", "symbolSize": 110, "symbolStrokeWidth": 2.5, "columnPadding": 17, "labelOffset": 3, "labelLimit": 200}
        }
      }
    }
  ],
  "resolve": {"scale": {"x": "independent", "y": "independent"}, "axis": {"x": "independent", "y": "independent"}},
  "config": {
    "font": "Noto Sans CJK KR",
    "view": {"stroke": null}
  }
}
